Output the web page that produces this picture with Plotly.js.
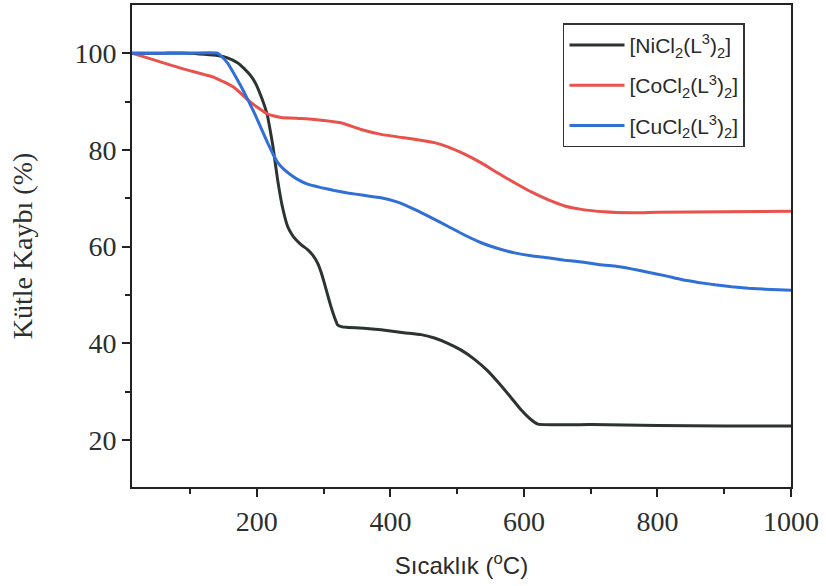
<!DOCTYPE html>
<html>
<head>
<meta charset="utf-8">
<script src="https://cdn.plot.ly/plotly-3.0.1.min.js"></script>
<style>html,body{margin:0;padding:0;background:#fff;}#chart{width:826px;height:586px;}</style>
</head>
<body>
<div id="chart"></div>
<script>
// Series names
const seriesNames = [
  "[NiCl<sub>2</sub>(L<sup>3</sup>)<sub>2</sub>]",
  "[CoCl<sub>2</sub>(L<sup>3</sup>)<sub>2</sub>]",
  "[CuCl<sub>2</sub>(L<sup>3</sup>)<sub>2</sub>]"
];

// NiCl2(L3)2 (black)
const niTemp = [13, 60, 100, 141, 156, 171, 181, 191, 199, 206, 211, 216, 220, 224, 231, 238, 246, 252, 258, 267, 276, 284, 291, 296, 301, 306, 311, 316, 321, 328, 336, 360, 386, 420, 446, 466, 486, 506, 526, 545, 561, 580, 596, 610, 621, 700, 800, 900, 1000];
const niMass = [100, 100, 100, 99.5, 99, 98, 96.8, 95.3, 93.5, 91.2, 89.3, 87, 84, 80.8, 73.9, 68.4, 64.2, 62.6, 61.5, 60.3, 59.4, 58.2, 56.6, 54.8, 52.5, 50, 47.6, 45.5, 43.8, 43.4, 43.3, 43.1, 42.8, 42.2, 41.8, 41.1, 40.0, 38.6, 36.7, 34.4, 32.0, 28.9, 26.2, 24.3, 23.3, 23.2, 23.0, 22.9, 22.9];

// CoCl2(L3)2 (red)
const coTemp = [13, 41, 91, 136, 166, 191, 216, 236, 266, 286, 326, 356, 386, 436, 466, 486, 511, 536, 561, 586, 611, 636, 661, 686, 720, 761, 800, 900, 1000];
const coMass = [100, 98.8, 96.7, 95, 92.9, 89.8, 87.4, 86.7, 86.5, 86.3, 85.6, 84.2, 83.2, 82.2, 81.5, 80.6, 79.1, 77.3, 75.2, 73.2, 71.3, 69.7, 68.4, 67.7, 67.2, 67.0, 67.1, 67.2, 67.3];

// CuCl2(L3)2 (blue)
const cuTemp = [13, 60, 100, 141, 148, 156, 166, 176, 186, 196, 206, 216, 224, 231, 241, 251, 261, 276, 296, 316, 336, 360, 386, 411, 436, 461, 486, 511, 536, 561, 586, 611, 636, 661, 686, 711, 736, 761, 786, 811, 836, 861, 886, 911, 936, 961, 1000];
const cuMass = [100, 100, 100, 100, 99.2, 98, 95.7, 93.2, 90.5, 87.7, 84.6, 81.5, 79.2, 77.4, 75.9, 74.8, 73.9, 72.9, 72.2, 71.6, 71.1, 70.6, 70.1, 69.2, 67.7, 66, 64.2, 62.4, 60.8, 59.6, 58.7, 58.1, 57.7, 57.2, 56.8, 56.3, 56.0, 55.4, 54.7, 54.0, 53.2, 52.6, 52.1, 51.7, 51.4, 51.2, 51.0];

const xTicks = [200, 400, 600, 800, 1000];
const yTicks = [20, 40, 60, 80, 100];

const serif = "Liberation Serif, Times New Roman, serif";
const sans = "Liberation Sans, Arial, sans-serif";

const traces = [
  {x: niTemp, y: niMass, name: seriesNames[0], legendgroup: "ni", mode: "lines", line: {color: "#2d3232", width: 3, shape: "spline", smoothing: 0.4}},
  {x: coTemp, y: coMass, name: seriesNames[1], legendgroup: "co", mode: "lines", line: {color: "#e8514c", width: 3, shape: "spline", smoothing: 0.4}},
  {x: cuTemp, y: cuMass, name: seriesNames[2], legendgroup: "cu", mode: "lines", line: {color: "#2f6fd6", width: 3, shape: "spline", smoothing: 0.4}}
];

const layout = {
  width: 826, height: 586,
  margin: {l: 132, r: 35, t: 5, b: 99},
  paper_bgcolor: "#ffffff", plot_bgcolor: "#ffffff",
  showlegend: true,
  legend: {
    x: 0.654, y: 0.962, xanchor: "left", yanchor: "top",
    bordercolor: "#333", borderwidth: 1.5, bgcolor: "rgba(255,255,255,0)",
    font: {family: sans, size: 21, color: "#2a2a2a"},
    itemwidth: 55, tracegroupgap: 10
  },
  xaxis: {
    range: [13, 1000], tickvals: xTicks, ticktext: xTicks.map(String),
    showgrid: false, zeroline: false,
    showline: true, linecolor: "#222", linewidth: 2, mirror: true,
    ticks: "outside", ticklen: 8, tickwidth: 2, tickcolor: "#222",
    minor: {dtick: 100, tick0: 0, ticks: "outside", ticklen: 5, tickwidth: 2, tickcolor: "#222", showgrid: false},
    tickfont: {family: serif, size: 28, color: "#2a2f2f"},
    title: {text: "Sıcaklık (<sup>o</sup>C)", font: {family: sans, size: 24, color: "#2a2a2a"}, standoff: 22}
  },
  yaxis: {
    range: [10.3, 109.95], tickvals: yTicks, ticktext: yTicks.map(String),
    showgrid: false, zeroline: false,
    showline: true, linecolor: "#222", linewidth: 2, mirror: true,
    ticks: "outside", ticklen: 8, tickwidth: 2, tickcolor: "#222",
    minor: {dtick: 10, tick0: 0, ticks: "outside", ticklen: 5, tickwidth: 2, tickcolor: "#222", showgrid: false},
    tickfont: {family: serif, size: 28, color: "#2a2f2f"},
    title: {text: "Kütle Kaybı (%)", font: {family: serif, size: 28, color: "#2a2f2f"}, standoff: 34}
  }
};

Plotly.newPlot("chart", traces, layout, {displayModeBar: false, staticPlot: true});
</script>
</body>
</html>
